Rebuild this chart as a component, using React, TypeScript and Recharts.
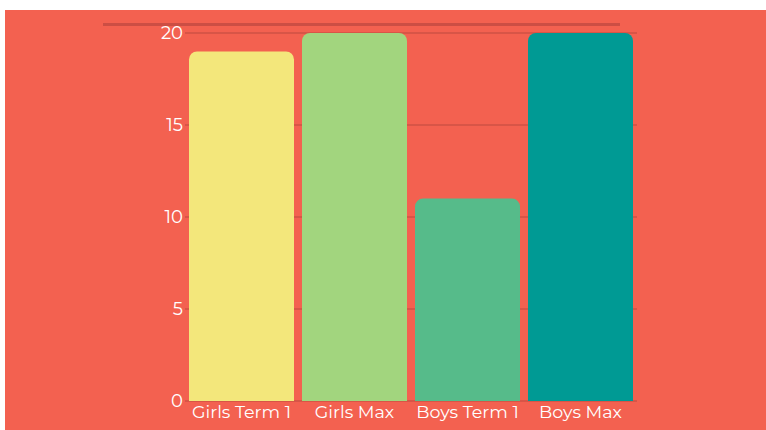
import { Bar, BarChart, CartesianGrid, Cell, XAxis, YAxis } from "recharts";

const categories = ["Girls Term 1", "Girls Max", "Boys Term 1", "Boys Max"];
const scores = [19, 20, 11, 20];
const barColors = ["#F3E77B", "#A2D57E", "#56BB8A", "#009A94"];
const yTicks = [0, 5, 10, 15, 20];

const data = categories.map((name, i) => ({ name, score: scores[i] }));

const font = "Montserrat, 'Noto Sans', sans-serif";

export default function App() {
  return (
    <div style={{ position: "absolute", left: 5, top: 10, width: 761, height: 420, background: "#F36150" }}>
      <div style={{ position: "absolute", left: 98, top: 13, width: 517, height: 3, background: "#CC4E44" }} />
      <BarChart
        width={761}
        height={420}
        data={data}
        margin={{ top: 23, right: 129, bottom: 0, left: 0 }}
        barCategoryGap={4}
      >
        <CartesianGrid vertical={false} stroke="#CF5245" strokeWidth={1.5} />
        <XAxis
          dataKey="name"
          axisLine={false}
          tickLine={false}
          tickSize={0}
          tickMargin={5}
          height={29}
          interval={0}
          tick={{ fill: "#FFFFFF", fontSize: 17.5, fontFamily: font }}
        />
        <YAxis
          domain={[0, 20]}
          ticks={yTicks}
          axisLine={false}
          tickLine={false}
          tickSize={0}
          tickMargin={2}
          width={180}
          tick={{ fill: "#FFFFFF", fontSize: 18, fontFamily: font }}
        />
        <Bar dataKey="score" radius={[8, 8, 0, 0]} isAnimationActive={false}>
          {data.map((d, i) => (
            <Cell key={d.name} fill={barColors[i]} />
          ))}
        </Bar>
      </BarChart>
    </div>
  );
}
